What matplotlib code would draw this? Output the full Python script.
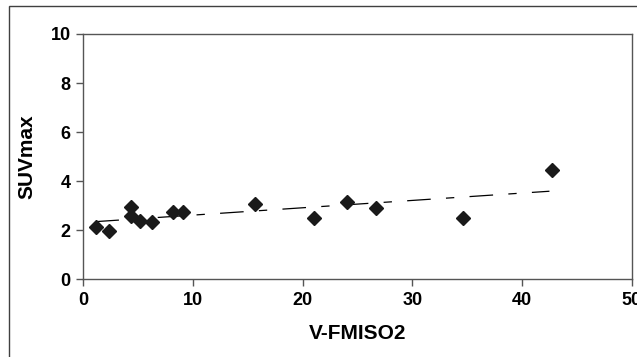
import matplotlib
matplotlib.use("Agg")
import matplotlib.pyplot as plt
from matplotlib.patches import Rectangle

plt.rcParams.update({
    "font.family": ["Liberation Sans", "DejaVu Sans"],
    "font.weight": "bold",
    "lines.scale_dashes": False,
})

# data
v_fmiso2 = [1.2, 2.3, 4.35, 4.35, 5.2, 6.25, 8.15, 9.1, 15.7, 21.0, 24.0, 26.65, 34.6, 42.7]
suv_max = [2.14, 1.97, 2.96, 2.59, 2.36, 2.32, 2.73, 2.73, 3.08, 2.49, 3.14, 2.89, 2.49, 4.47]
trend_x = [1.1, 42.5]
trend_y = [2.35, 3.59]
x_ticks = [0, 10, 20, 30, 40, 50]
y_ticks = [0, 2, 4, 6, 8, 10]

GRAY = "#555555"

fig = plt.figure(figsize=(6.37, 3.57), dpi=100)
# outer chart border (cropped on the right and bottom, as in the reference)
fig.patches.append(Rectangle((9 / 637, -0.1), 1.2, 1 - 6 / 357 + 0.1,
                             transform=fig.transFigure, fill=False,
                             edgecolor="#404040", linewidth=1.0))
ax = fig.add_axes([83.3 / 637, 1 - 279.3 / 357,
                   (631.7 - 83.3) / 637, (279.3 - 34) / 357])

ax.plot(trend_x, trend_y, color="black", lw=0.9,
        linestyle=(0, (17, 11, 6, 11)), zorder=2)
ax.plot(v_fmiso2, suv_max, linestyle="none", marker="D", markersize=7,
        color="#1a1a1a", zorder=3)

ax.set_xlim(0, 50)
ax.set_ylim(0, 10)
ax.set_xticks(x_ticks)
ax.set_yticks(y_ticks)
ax.set_xticklabels([str(t) for t in x_ticks], fontsize=13, fontweight="bold")
ax.set_yticklabels([str(t) for t in y_ticks], fontsize=13, fontweight="bold")
for s in ax.spines.values():
    s.set_color(GRAY)
    s.set_linewidth(1.0)
ax.tick_params(direction="out", length=5, width=1.0, color=GRAY, pad=4)

ax.set_xlabel("V-FMISO2", fontsize=15, fontweight="bold", labelpad=11)
ax.set_ylabel("SUVmax", fontsize=15, fontweight="bold", labelpad=10)

fig.savefig("out.png", dpi=100)
